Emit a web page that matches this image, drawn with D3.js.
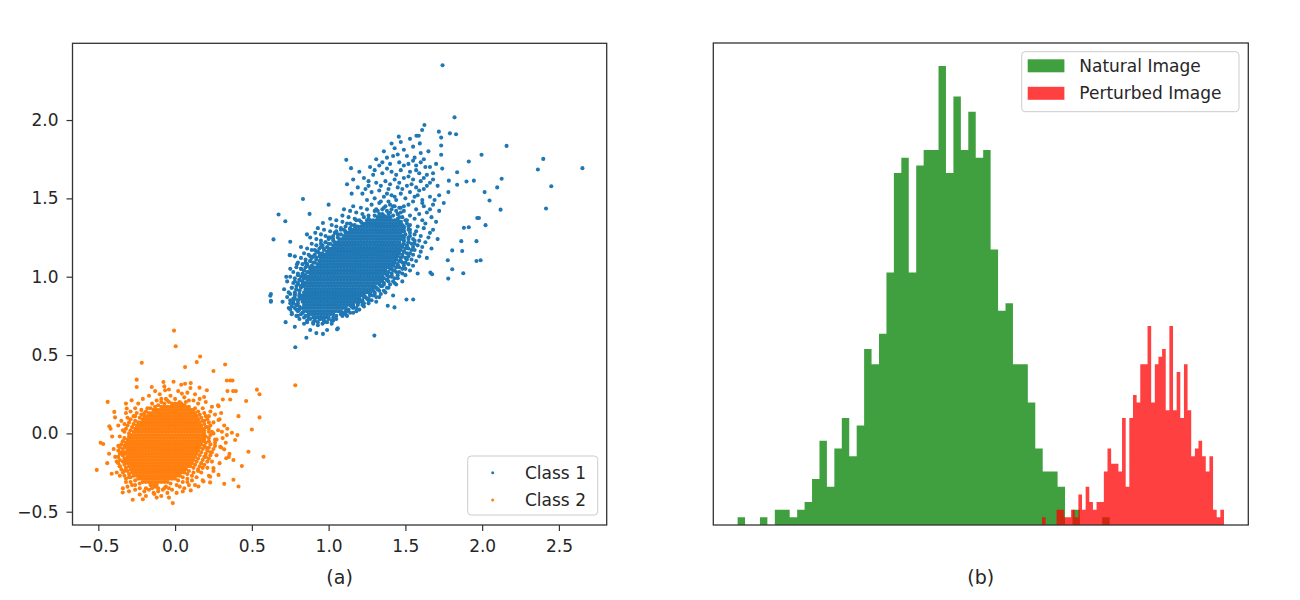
<!DOCTYPE html>
<html><head><meta charset="utf-8">
<script src="https://cdn.jsdelivr.net/npm/d3@7"></script>
<style>body{margin:0;background:#fff}svg{display:block}</style>
</head><body><svg id="c" width="1300" height="600"></svg>
<script>
// ---------------- DATA ----------------
// Panel (a): dense cores as rows [y, [x...]]; rings, halo and outliers as [x, y]
const class1CoreRows = [
[.74,[.90,.92,.94,.96,.98]],
[.76,[.87,.89,.91,.93,.95,.97,.99,1.01,1.03]],
[.78,[.84,.86,.88,.90,.92,.94,.96,.98,1,1.02,1.04,1.06,1.08]],
[.80,[.83,.85,.87,.89,.91,.93,.95,.97,.99,1.01,1.03,1.05,1.07,1.09,1.11]],
[.82,[.84,.86,.88,.90,.92,.94,.96,.98,1,1.02,1.04,1.06,1.08,1.1,1.12,1.14,1.16]],
[.84,[.83,.85,.87,.89,.91,.93,.95,.97,.99,1.01,1.03,1.05,1.07,1.09,1.11,1.13,1.15,1.17,1.19]],
[.86,[.82,.84,.86,.88,.9,.92,.94,.96,.98,1,1.02,1.04,1.06,1.08,1.1,1.12,1.14,1.16,1.18,1.2]],
[.88,[.83,.85,.87,.89,.91,.93,.95,.97,.99,1.01,1.03,1.05,1.07,1.09,1.11,1.13,1.15,1.17,1.19,1.21,1.23]],
[.90,[.84,.86,.88,.9,.92,.94,.96,.98,1,1.02,1.04,1.06,1.08,1.1,1.12,1.14,1.16,1.18,1.2,1.22,1.24,1.26]],
[.92,[.85,.87,.89,.91,.93,.95,.97,.99,1.01,1.03,1.05,1.07,1.09,1.11,1.13,1.15,1.17,1.19,1.21,1.23,1.25,1.27]],
[.94,[.84,.86,.88,.9,.92,.94,.96,.98,1,1.02,1.04,1.06,1.08,1.1,1.12,1.14,1.16,1.18,1.2,1.22,1.24,1.26,1.28,1.3]],
[.96,[.85,.87,.89,.91,.93,.95,.97,.99,1.01,1.03,1.05,1.07,1.09,1.11,1.13,1.15,1.17,1.19,1.21,1.23,1.25,1.27,1.29,1.31]],
[.98,[.86,.88,.9,.92,.94,.96,.98,1,1.02,1.04,1.06,1.08,1.1,1.12,1.14,1.16,1.18,1.2,1.22,1.24,1.26,1.28,1.3,1.32,1.34]],
[1.00,[.87,.89,.91,.93,.95,.97,.99,1.01,1.03,1.05,1.07,1.09,1.11,1.13,1.15,1.17,1.19,1.21,1.23,1.25,1.27,1.29,1.31,1.33,1.35]],
[1.02,[.88,.9,.92,.94,.96,.98,1,1.02,1.04,1.06,1.08,1.1,1.12,1.14,1.16,1.18,1.2,1.22,1.24,1.26,1.28,1.3,1.32,1.34,1.36]],
[1.04,[.89,.91,.93,.95,.97,.99,1.01,1.03,1.05,1.07,1.09,1.11,1.13,1.15,1.17,1.19,1.21,1.23,1.25,1.27,1.29,1.31,1.33,1.35,1.37]],
[1.06,[.9,.92,.94,.96,.98,1,1.02,1.04,1.06,1.08,1.1,1.12,1.14,1.16,1.18,1.2,1.22,1.24,1.26,1.28,1.3,1.32,1.34,1.36,1.38,1.4]],
[1.08,[.93,.95,.97,.99,1.01,1.03,1.05,1.07,1.09,1.11,1.13,1.15,1.17,1.19,1.21,1.23,1.25,1.27,1.29,1.31,1.33,1.35,1.37,1.39,1.41]],
[1.10,[.94,.96,.98,1,1.02,1.04,1.06,1.08,1.1,1.12,1.14,1.16,1.18,1.2,1.22,1.24,1.26,1.28,1.3,1.32,1.34,1.36,1.38,1.4,1.42]],
[1.12,[.95,.97,.99,1.01,1.03,1.05,1.07,1.09,1.11,1.13,1.15,1.17,1.19,1.21,1.23,1.25,1.27,1.29,1.31,1.33,1.35,1.37,1.39,1.41,1.43]],
[1.14,[.96,.98,1,1.02,1.04,1.06,1.08,1.1,1.12,1.14,1.16,1.18,1.2,1.22,1.24,1.26,1.28,1.3,1.32,1.34,1.36,1.38,1.4,1.42,1.44]],
[1.16,[.99,1.01,1.03,1.05,1.07,1.09,1.11,1.13,1.15,1.17,1.19,1.21,1.23,1.25,1.27,1.29,1.31,1.33,1.35,1.37,1.39,1.41,1.43,1.45]],
[1.18,[1,1.02,1.04,1.06,1.08,1.1,1.12,1.14,1.16,1.18,1.2,1.22,1.24,1.26,1.28,1.3,1.32,1.34,1.36,1.38,1.4,1.42,1.44,1.46]],
[1.20,[1.03,1.05,1.07,1.09,1.11,1.13,1.15,1.17,1.19,1.21,1.23,1.25,1.27,1.29,1.31,1.33,1.35,1.37,1.39,1.41,1.43,1.45,1.47]],
[1.22,[1.04,1.06,1.08,1.1,1.12,1.14,1.16,1.18,1.2,1.22,1.24,1.26,1.28,1.3,1.32,1.34,1.36,1.38,1.4,1.42,1.44,1.46]],
[1.24,[1.07,1.09,1.11,1.13,1.15,1.17,1.19,1.21,1.23,1.25,1.27,1.29,1.31,1.33,1.35,1.37,1.39,1.41,1.43,1.45,1.47]],
[1.26,[1.1,1.12,1.14,1.16,1.18,1.2,1.22,1.24,1.26,1.28,1.3,1.32,1.34,1.36,1.38,1.4,1.42,1.44,1.46,1.48]],
[1.28,[1.11,1.13,1.15,1.17,1.19,1.21,1.23,1.25,1.27,1.29,1.31,1.33,1.35,1.37,1.39,1.41,1.43,1.45,1.47]],
[1.30,[1.14,1.16,1.18,1.2,1.22,1.24,1.26,1.28,1.3,1.32,1.34,1.36,1.38,1.4,1.42,1.44,1.46,1.48]],
[1.32,[1.17,1.19,1.21,1.23,1.25,1.27,1.29,1.31,1.33,1.35,1.37,1.39,1.41,1.43,1.45,1.47]],
[1.34,[1.22,1.24,1.26,1.28,1.3,1.32,1.34,1.36,1.38,1.4,1.42,1.44,1.46]],
[1.36,[1.25,1.27,1.29,1.31,1.33,1.35,1.37,1.39,1.41,1.43,1.45]],
[1.38,[1.32,1.34,1.36,1.38,1.4]]
];
const class1Ring = [
[.85,.75],[.82,.76],[.79,.75],[1.05,.75],[1.08,.76],[1.12,.75],
[.83,.77],[.80,.78],[.76,.77],[1.09,.77],[1.12,.78],[1.16,.77],
[.81,.79],[.78,.80],[.75,.79],[1.13,.79],[1.16,.80],[1.20,.79],
[.81,.81],[.79,.82],[.76,.81],[1.16,.81],[1.19,.82],[1.23,.81],
[.80,.83],[.77,.84],[1.19,.83],[1.22,.84],[1.26,.83],
[.80,.85],[.78,.86],[.75,.85],[1.22,.85],[1.25,.86],[1.28,.85],
[.81,.87],[.78,.88],[1.24,.87],[1.27,.88],[1.31,.87],
[.81,.89],[.78,.90],[.75,.89],[1.27,.89],[1.30,.90],[1.34,.89],
[.81,.91],[.79,.92],[1.29,.91],[1.32,.92],[1.36,.91],
[.82,.93],[.79,.94],[.76,.93],[1.31,.93],[1.34,.94],[1.38,.93],
[.83,.95],[.80,.96],[1.33,.95],[1.36,.96],[1.40,.95],
[.83,.97],[.81,.98],[.78,.97],[1.35,.97],[1.38,.98],[1.42,.97],
[.84,.99],[.82,1.00],[1.36,.99],[1.39,1.00],[1.43,.99],
[.85,1.01],[.83,1.02],[.80,1.01],[1.38,1.01],[1.41,1.02],[1.45,1.01],
[.87,1.03],[.84,1.04],[1.39,1.03],[1.42,1.04],[1.46,1.03],
[.88,1.05],[.85,1.06],[.82,1.05],[1.41,1.05],[1.44,1.06],[1.48,1.05],
[.89,1.07],[.86,1.08],[1.42,1.07],[1.45,1.08],[1.49,1.07],
[.91,1.09],[.88,1.10],[.85,1.09],[1.43,1.09],[1.46,1.10],[1.50,1.09],
[.92,1.11],[.89,1.12],[1.44,1.11],[1.47,1.12],[1.51,1.11],
[.94,1.13],[.91,1.14],[.88,1.13],[1.45,1.13],[1.48,1.14],[1.52,1.13],
[.96,1.15],[.93,1.16],[1.46,1.15],[1.49,1.16],[1.53,1.15],
[.97,1.17],[.94,1.18],[.91,1.17],[1.47,1.17],[1.50,1.18],[1.54,1.17],
[.99,1.19],[.96,1.20],[1.48,1.19],[1.51,1.20],[1.55,1.19],
[1.01,1.21],[.98,1.22],[.95,1.21],[1.49,1.21],[1.52,1.22],[1.56,1.21],
[1.03,1.23],[1.00,1.24],[1.49,1.23],[1.52,1.24],[1.56,1.23],
[1.06,1.25],[1.03,1.26],[1.00,1.25],[1.49,1.25],[1.53,1.26],
[1.08,1.27],[1.05,1.28],[1.50,1.27],[1.53,1.28],
[1.11,1.29],[1.08,1.30],[1.05,1.29],[1.49,1.29],[1.52,1.30],
[1.14,1.31],[1.11,1.32],[1.49,1.31],[1.52,1.32],
[1.17,1.33],[1.14,1.34],[1.48,1.33],[1.51,1.34],
[1.21,1.35],[1.18,1.36],[1.47,1.35],[1.50,1.36],
[1.26,1.37],[1.23,1.38],[1.45,1.37],[1.48,1.38],
[1.30,1.39],[1.33,1.40],[1.36,1.39],[1.39,1.40],[1.42,1.39],[1.45,1.40],[1.32,1.42],[1.35,1.43],[1.38,1.42],[1.41,1.43],[1.44,1.42],[1.47,1.41],[1.37,1.45],[1.40,1.46],[1.43,1.45],[1.46,1.44],[1.49,1.45],
[.88,.73],[.91,.72],[.94,.73],[.97,.72],[1.00,.73],[.86,.71],[.90,.70],[.93,.71],[.96,.70],[.99,.71],[1.02,.72],[.84,.74],[1.03,.74],
[1.34,1.48],[1.38,1.53],[1.43,1.51],[1.48,1.56],[1.54,1.59],[1.59,1.55],[1.46,1.60],[1.40,1.59],[1.34,1.58],[1.52,1.64],[1.57,1.68],[1.62,1.63],[1.44,1.65],[1.38,1.69],[1.49,1.71],[1.55,1.74],[1.60,1.73],[1.66,1.70],[1.42,1.77],[1.35,1.73],[1.30,1.68],[1.26,1.61],[1.24,1.56],[1.64,1.58],[1.68,1.62],[1.71,1.58],[1.56,1.51],[1.61,1.47],[1.66,1.43],[1.69,1.49]
];
const class1Halo = [
[.72,.71],[.78,.68],[.84,.70],[.88,.66],[.93,.69],[.97,.71],[1.02,.70],[1.06,.67],[.81,.73],[.86,.72],[.90,.71],[.95,.73],[1.00,.74],[1.05,.73],[1.09,.75],[.76,.76],[.80,.75],[.83,.77],[1.08,.77],[1.12,.79],[.74,.80],[.79,.79],[.92,.64],[.99,.66],[.70,.84],[.77,.83],[1.15,.81],[1.11,.76],[.87,.74],[1.03,.72],
[.79,.82],[.75,.83],[.80,.85],[.77,.86],[.73,.87],[.81,.88],[.78,.89],[.74,.90],[.81,.91],[.79,.92],[.76,.93],[.71,.92],[.82,.94],[.80,.95],[.77,.96],[.73,.97],[.83,.97],[.81,.98],[.78,.99],[.75,1.00],[.85,1.00],[.83,1.01],[.80,1.02],[.77,1.03],[.86,1.03],[.84,1.04],[.82,1.05],[.79,1.06],[.75,1.05],[.88,1.06],[.86,1.07],[.83,1.08],[.80,1.09],[.90,1.09],[.88,1.10],[.85,1.11],[.82,1.12],[.78,1.13],[.92,1.12],[.90,1.13],[.87,1.14],[.84,1.15],[.94,1.15],[.92,1.16],[.89,1.17],[.86,1.18],[.82,1.19],[.97,1.18],[.95,1.19],[.92,1.20],[.89,1.21],[1.00,1.21],[.98,1.22],[.95,1.23],[.92,1.24],[.88,1.25],[1.03,1.24],[1.01,1.25],[.98,1.26],[.95,1.27],[1.06,1.27],[1.04,1.28],[1.01,1.29],[.97,1.30],[.93,1.31],[1.10,1.30],[1.08,1.31],[1.05,1.32],[1.02,1.33],[1.15,1.33],[1.12,1.34],[1.09,1.35],[1.05,1.36],[1.01,1.37],[1.20,1.36],[1.17,1.37],[1.13,1.38],[1.09,1.39],[1.26,1.39],[1.22,1.40],[1.18,1.41],[1.14,1.42],[1.10,1.43],[1.30,1.42],[1.25,1.43],[1.21,1.44],[1.16,1.45],
[1.35,1.40],[1.40,1.41],[1.45,1.40],[1.49,1.42],[1.31,1.43],[1.36,1.44],[1.42,1.45],[1.47,1.44],[1.52,1.46],[1.28,1.46],[1.33,1.47],[1.39,1.48],[1.44,1.49],[1.50,1.50],[1.55,1.48],[1.25,1.49],[1.30,1.50],[1.36,1.51],[1.41,1.52],[1.47,1.53],[1.53,1.54],[1.58,1.52],[1.22,1.53],[1.28,1.54],[1.33,1.55],[1.39,1.56],[1.45,1.57],[1.51,1.58],[1.57,1.57],[1.62,1.56],[1.19,1.57],[1.26,1.58],[1.31,1.60],[1.37,1.61],[1.43,1.62],[1.49,1.63],[1.55,1.62],[1.60,1.61],[1.66,1.60],[1.23,1.63],[1.29,1.65],[1.35,1.66],[1.41,1.67],[1.47,1.68],[1.53,1.67],[1.59,1.66],[1.64,1.65],[1.20,1.67],[1.27,1.70],[1.33,1.71],[1.40,1.72],[1.46,1.73],[1.52,1.72],[1.57,1.71],[1.63,1.70],[1.31,1.75],[1.38,1.76],[1.45,1.78],[1.51,1.77],[1.56,1.76],[1.62,1.75],[1.36,1.80],[1.43,1.82],[1.49,1.81],[1.55,1.83],[1.47,1.86],[1.53,1.88],[1.41,1.85],[1.68,1.66],[1.70,1.72],[1.60,1.79],[1.65,1.80],[1.74,1.69],[1.16,1.62],[1.12,1.59],[1.15,1.53],
[1.11,.78],[1.14,.77],[1.18,.78],[1.15,.81],[1.18,.80],[1.22,.82],[1.20,.84],[1.23,.83],[1.26,.85],[1.31,.84],[1.23,.87],[1.26,.86],[1.29,.88],[1.33,.87],[1.27,.90],[1.30,.89],[1.33,.91],[1.37,.90],[1.42,.88],[1.29,.93],[1.32,.92],[1.35,.94],[1.39,.93],[1.44,.95],[1.33,.96],[1.36,.95],[1.39,.97],[1.43,.96],[1.48,.97],[1.35,.99],[1.38,.98],[1.41,1.00],[1.45,.99],[1.50,1.01],[1.38,1.02],[1.41,1.01],[1.44,1.03],[1.48,1.02],[1.53,1.04],[1.58,1.02],[1.40,1.05],[1.43,1.04],[1.46,1.06],[1.50,1.05],[1.55,1.07],[1.42,1.08],[1.45,1.07],[1.48,1.09],[1.52,1.08],[1.57,1.10],[1.44,1.11],[1.47,1.10],[1.50,1.12],[1.54,1.11],[1.59,1.13],[1.64,1.12],[1.45,1.14],[1.48,1.13],[1.51,1.15],[1.55,1.14],[1.60,1.16],[1.46,1.17],[1.49,1.16],[1.52,1.18],[1.56,1.17],[1.61,1.19],[1.67,1.18],[1.48,1.20],[1.51,1.19],[1.54,1.21],[1.58,1.20],[1.63,1.22],[1.49,1.23],[1.52,1.22],[1.55,1.24],[1.59,1.23],[1.65,1.25],[1.71,1.24],[1.49,1.26],[1.52,1.25],[1.56,1.27],[1.60,1.26],[1.66,1.28],[1.49,1.29],[1.53,1.30],[1.57,1.29],[1.62,1.31],[1.68,1.30],[1.49,1.32],[1.53,1.33],[1.58,1.32],[1.63,1.34],[1.70,1.35],[1.47,1.35],[1.51,1.36],[1.56,1.37],[1.61,1.36],[1.67,1.38],[1.46,1.38],[1.53,1.39],[1.59,1.40],[1.64,1.41],[1.72,1.42],[1.57,1.43],[1.62,1.45],[1.68,1.46],[1.75,1.47],[1.61,1.49],[1.66,1.51],[1.72,1.52],[1.78,1.54]
];
const class1Outliers = [
[1.742,2.35],[1.82,2.017],[1.624,1.968],[1.572,1.90],[1.587,1.90],[1.457,1.894],[1.718,1.926],[1.79,1.915],[1.83,1.909],[1.609,1.936],[1.594,1.851],[1.733,1.888],[2.159,1.835],[1.996,1.778],[2.398,1.752],[2.653,1.693],[2.363,1.684],[2.45,1.577],[2.416,1.435],[2.127,1.625],[2.098,1.57],[2.048,1.486],[2.016,1.54],[2.12,1.428],[1.913,1.735],[1.837,1.667],[1.733,1.778],[1.733,1.837],[1.115,1.746],[1.146,1.693],[.833,1.496],[.674,1.397],[.718,1.354],[.641,1.238],[.876,1.401],[.75,1.223],[.75,1.138],[.624,.889],[.624,.84],[.783,.55],[1.298,.624],[.855,.61],[.963,.635],[1.055,.664],[1.429,.804],[1.385,.815],[1.507,.855],[1.551,.855],[1.663,1.026],[1.674,1.016],[1.779,.988],[1.805,1.048],[1.877,1.022],[1.963,1.1],[1.99,1.105],[1.963,1.227],[2.022,1.329],[1.968,1.375],[1.979,1.375],[1.864,1.227],[1.805,1.168],[1.881,1.312],[1.913,1.316],[1.837,1.587],[1.898,1.608],[1.783,1.613],[1.946,1.613],[1.776,1.105],[1.87,1.164],[1.0,1.46],[.963,1.343],[.913,1.28],[.859,1.27],[.746,1.138],[.794,1.079],[.724,.999],[.62,.878],[.624,.846]
];
const class2CoreRows = [
[-.33,[-.14,-.12]],
[-.31,[-.21,-.19,-.17,-.15,-.13,-.11,-.09,-.07,-.05]],
[-.29,[-.24,-.22,-.2,-.18,-.16,-.14,-.12,-.1,-.08,-.06,-.04,-.02,0]],
[-.27,[-.27,-.25,-.23,-.21,-.19,-.17,-.15,-.13,-.11,-.09,-.07,-.05,-.03,-.01,.01,.03]],
[-.25,[-.28,-.26,-.24,-.22,-.2,-.18,-.16,-.14,-.12,-.1,-.08,-.06,-.04,-.02,0,.02,.04,.06]],
[-.23,[-.29,-.27,-.25,-.23,-.21,-.19,-.17,-.15,-.13,-.11,-.09,-.07,-.05,-.03,-.01,.01,.03,.05,.07]],
[-.21,[-.3,-.28,-.26,-.24,-.22,-.2,-.18,-.16,-.14,-.12,-.1,-.08,-.06,-.04,-.02,0,.02,.04,.06,.08,.1]],
[-.19,[-.31,-.29,-.27,-.25,-.23,-.21,-.19,-.17,-.15,-.13,-.11,-.09,-.07,-.05,-.03,-.01,.01,.03,.05,.07,.09,.11]],
[-.17,[-.32,-.3,-.28,-.26,-.24,-.22,-.2,-.18,-.16,-.14,-.12,-.1,-.08,-.06,-.04,-.02,0,.02,.04,.06,.08,.1,.12]],
[-.15,[-.31,-.29,-.27,-.25,-.23,-.21,-.19,-.17,-.15,-.13,-.11,-.09,-.07,-.05,-.03,-.01,.01,.03,.05,.07,.09,.11,.13]],
[-.13,[-.32,-.3,-.28,-.26,-.24,-.22,-.2,-.18,-.16,-.14,-.12,-.1,-.08,-.06,-.04,-.02,0,.02,.04,.06,.08,.1,.12,.14]],
[-.11,[-.31,-.29,-.27,-.25,-.23,-.21,-.19,-.17,-.15,-.13,-.11,-.09,-.07,-.05,-.03,-.01,.01,.03,.05,.07,.09,.11,.13,.15]],
[-.09,[-.32,-.3,-.28,-.26,-.24,-.22,-.2,-.18,-.16,-.14,-.12,-.1,-.08,-.06,-.04,-.02,0,.02,.04,.06,.08,.1,.12,.14,.16]],
[-.07,[-.31,-.29,-.27,-.25,-.23,-.21,-.19,-.17,-.15,-.13,-.11,-.09,-.07,-.05,-.03,-.01,.01,.03,.05,.07,.09,.11,.13,.15,.17]],
[-.05,[-.3,-.28,-.26,-.24,-.22,-.2,-.18,-.16,-.14,-.12,-.1,-.08,-.06,-.04,-.02,0,.02,.04,.06,.08,.1,.12,.14,.16,.18]],
[-.03,[-.29,-.27,-.25,-.23,-.21,-.19,-.17,-.15,-.13,-.11,-.09,-.07,-.05,-.03,-.01,.01,.03,.05,.07,.09,.11,.13,.15,.17]],
[-.01,[-.28,-.26,-.24,-.22,-.2,-.18,-.16,-.14,-.12,-.1,-.08,-.06,-.04,-.02,0,.02,.04,.06,.08,.1,.12,.14,.16,.18]],
[.01,[-.27,-.25,-.23,-.21,-.19,-.17,-.15,-.13,-.11,-.09,-.07,-.05,-.03,-.01,.01,.03,.05,.07,.09,.11,.13,.15,.17]],
[.03,[-.26,-.24,-.22,-.2,-.18,-.16,-.14,-.12,-.1,-.08,-.06,-.04,-.02,0,.02,.04,.06,.08,.1,.12,.14,.16,.18]],
[.05,[-.25,-.23,-.21,-.19,-.17,-.15,-.13,-.11,-.09,-.07,-.05,-.03,-.01,.01,.03,.05,.07,.09,.11,.13,.15,.17]],
[.07,[-.24,-.22,-.2,-.18,-.16,-.14,-.12,-.1,-.08,-.06,-.04,-.02,0,.02,.04,.06,.08,.1,.12,.14,.16]],
[.09,[-.21,-.19,-.17,-.15,-.13,-.11,-.09,-.07,-.05,-.03,-.01,.01,.03,.05,.07,.09,.11,.13,.15]],
[.11,[-.2,-.18,-.16,-.14,-.12,-.1,-.08,-.06,-.04,-.02,0,.02,.04,.06,.08,.1,.12,.14]],
[.13,[-.17,-.15,-.13,-.11,-.09,-.07,-.05,-.03,-.01,.01,.03,.05,.07,.09,.11,.13]],
[.15,[-.14,-.12,-.1,-.08,-.06,-.04,-.02,0,.02,.04,.06,.08,.1]],
[.17,[-.09,-.07,-.05,-.03,-.01,.01,.03,.05,.07]],
[.19,[-.02,0,.02]]
];
const class2Ring = [
[-.15,-.35],[-.11,-.35],[-.07,-.35],[-.13,-.34],[-.04,-.35],[-.19,-.35],
[-.23,-.32],[-.26,-.33],[-.03,-.32],[.01,-.33],
[-.26,-.30],[-.29,-.31],[.02,-.30],[.05,-.31],
[-.29,-.28],[-.32,-.29],[.05,-.28],[.08,-.29],
[-.30,-.26],[-.33,-.27],[.08,-.26],[.11,-.27],
[-.31,-.24],[-.34,-.25],[.09,-.24],[.12,-.25],[.15,-.24],
[-.32,-.22],[-.35,-.23],[.12,-.22],[.15,-.23],[.18,-.22],
[-.33,-.20],[-.36,-.21],[.13,-.20],[.16,-.21],[.19,-.20],
[-.34,-.18],[-.37,-.19],[.14,-.18],[.17,-.19],[.21,-.18],
[-.33,-.16],[-.36,-.17],[.15,-.16],[.18,-.17],[.22,-.16],
[-.34,-.14],[-.37,-.15],[.16,-.14],[.19,-.15],[.23,-.14],
[-.33,-.12],[-.36,-.13],[.17,-.12],[.20,-.13],[.24,-.12],
[-.34,-.10],[-.37,-.11],[.18,-.10],[.21,-.11],[.25,-.10],
[-.33,-.08],[-.36,-.09],[.19,-.08],[.22,-.09],[.26,-.08],
[-.32,-.06],[-.35,-.07],[.20,-.06],[.23,-.07],
[-.31,-.04],[-.34,-.05],[.19,-.04],[.22,-.03],[.26,-.04],
[-.30,-.02],[-.33,-.03],[.20,-.02],[.23,-.01],
[-.30,0],[-.33,.01],[.19,0],[.22,.01],[.25,0],
[-.29,.02],[-.32,.03],[.19,.02],[.22,.03],
[-.28,.04],[-.31,.05],[.20,.04],[.23,.05],
[-.27,.06],[-.30,.07],[.19,.06],[.22,.07],
[-.26,.08],[-.29,.09],[.18,.08],[.21,.09],
[-.23,.10],[-.26,.11],[.17,.10],[.20,.11],
[-.22,.12],[-.25,.13],[.16,.12],[.19,.13],
[-.19,.14],[-.22,.15],[.15,.14],[.12,.15],
[-.16,.16],[-.13,.17],[.13,.16],[.09,.17],
[-.11,.18],[-.07,.19],[.06,.18],[.04,.19],[-.04,.20],
[-.05,.21],[.07,.20],[-.09,.22]
];
const class2Halo = [
[-.34,-.05],[-.37,-.08],[-.35,-.12],[-.39,-.15],[-.33,-.18],[-.36,-.21],[-.40,-.10],[-.34,.02],[-.37,.05],[-.41,-.02],[-.33,-.24],[-.36,-.27],[-.30,-.28],[-.32,-.31],[-.35,.08],[-.31,.10],[-.38,-.25],[-.43,-.13],[-.42,.03],[-.34,-.14],[-.36,-.02],[-.33,.06],[-.38,-.18],[-.31,-.34],[-.28,-.33],[-.26,-.36],[-.23,-.35],[-.30,-.37],[-.34,-.35],[-.29,.14],[-.26,.16],[-.27,.11],[-.32,.13],[-.24,.19],
[-.20,-.37],[-.17,-.36],[-.14,-.38],[-.11,-.37],[-.08,-.36],[-.05,-.38],[-.19,-.40],[-.12,-.41],[-.02,-.36],[.01,-.38],[-.09,-.40],[-.16,-.33],[-.06,-.34],[.03,-.34],[.06,-.35],[-.23,-.39],[-.04,-.41],[.09,-.33],[-.21,-.42],
[.19,-.02],[.22,-.05],[.21,.04],[.24,.01],[.20,-.09],[.23,-.12],[.26,-.06],[.19,.08],[.22,.11],[.25,.07],[.28,.02],[.20,-.15],[.24,-.18],[.27,-.14],[.30,-.09],[.21,-.22],[.17,-.25],[.14,-.28],[.18,-.30],[.11,-.30],[.25,-.24],[.29,-.19],[.27,-.04],[.31,-.03],[.23,.14],[.26,.12],[.29,.09],[.32,.05],[.18,.16],[.15,.19],[.12,.21],[.16,.22],[.20,.20],[.24,.17],[.08,-.31],[.13,-.33],[.22,-.27],[.33,-.06],[.34,.03],[.30,.13],[.28,.18],[.35,-.15],
[-.18,.16],[-.15,.19],[-.12,.21],[-.09,.20],[-.06,.22],[-.03,.24],[.00,.22],[.03,.20],[.06,.23],[.09,.21],[.05,.18],[-.20,.13],[-.10,.25],[-.04,.28],[.02,.27],[.08,.26],[-.13,.27],[-.07,.30],[.04,.31],[.10,.29],[-.21,.22],[-.17,.24],[.13,.25],[-.01,.33]
];
const class2Outliers = [
[-.007,.656],[.004,.556],[-.217,.451],[.163,.491],[.141,.455],[.065,.423],[.25,.398],[.326,.44],[-.25,.343],[-.439,.201],[-.396,.137],[-.391,.102],[-.428,.046],[-.485,-.06],[-.468,-.068],[-.51,-.233],[-.442,-.19],[-.413,-.258],[-.341,-.377],[-.276,-.424],[-.015,-.445],[-.135,-.387],[.05,-.371],[.102,-.364],[.228,-.313],[.32,-.322],[.413,-.339],[.38,-.296],[.435,-.208],[.478,-.117],[.576,-.149],[.5,.025],[.55,.102],[.533,.279],[.55,.25],[.463,.207],[.413,.11],[.406,-.011],[.391,-.042],[.359,.338],[.374,.338],[.337,.338],[.341,.27],[.378,.27],[.396,.27],[.311,.216],[.359,.216],[.283,.173],[.283,.085],[.305,.01],[.337,-.011],[.37,.004],[.294,-.085],[.32,-.102],[.354,-.131],[.38,-.17],[.333,-.159],[.25,-.222],[.283,-.265],[.228,-.276],[.185,-.307],[.152,-.339],[-.25,.296],[-.152,.296],[-.076,.328],[-.065,.275],[-.32,.19],[-.283,.211],[-.315,.159],[.065,.317],[.102,.321],[.044,.254],[.159,.292],[.207,.275],[.189,.232],[.783,.307]
];
const xTicksA = [-0.5, 0, 0.5, 1.0, 1.5, 2.0, 2.5];
const yTicksA = [-0.5, 0, 0.5, 1.0, 1.5, 2.0];
const seriesA = ["Class 1", "Class 2"];

// Panel (b): histograms, 50 bins each over the given ranges (arbitrary score units)
const naturalRange = [0, 50];
const naturalCounts = [1,0,0,1,0,2,2,1,2,3,6,11,5,10,14,9,13,23,21,25,33,46,48,33,47,49,49,60,46,56,49,54,48,49,36,28,29,21,21,16,10,7,7,5,0,2,0,0,0,1];
const perturbedRange = [40.9, 65.36];
const perturbedCounts = [1,0,0,0,2,2,1,1,2,1,4,2,5,3,2,3,3,7,10,8,8,7,14,5,14,17,16,21,21,26,16,21,22,23,15,26,15,20,14,21,15,9,10,11,9,7,9,2,1,2];
const seriesB = ["Natural Image", "Perturbed Image"];
const captions = ["(a)", "(b)"];

// ---------------- DRAW ----------------
const FONT = '"DejaVu Sans", Verdana, sans-serif';
const svg = d3.select("#c");
const pad5 = e => { const m = (e[1] - e[0]) * 0.05; return [e[0] - m, e[1] + m]; };
const expand = rows => rows.flatMap(([y, xs]) => xs.map(x => [x, y]));
const class1 = expand(class1CoreRows).concat(class1Ring, class1Halo, class1Outliers);
const class2 = expand(class2CoreRows).concat(class2Ring, class2Halo, class2Outliers);

function styleAxis(g) {
  g.select(".domain").remove();
  g.selectAll(".tick line").attr("stroke", "#333").attr("stroke-width", 1.2);
  g.selectAll(".tick text").attr("fill", "#262626").style("font-family", FONT).style("font-size", "17px");
}

// ---- Panel (a)
const A = { l: 72.5, r: 606.7, t: 43.3, b: 525 };
const allA = class1.concat(class2);
const xA = d3.scaleLinear().domain(pad5(d3.extent(allA, d => d[0]))).range([A.l, A.r]);
const yA = d3.scaleLinear().domain(pad5(d3.extent(allA, d => d[1]))).range([A.b, A.t]);
const colorsA = ["#1f77b4", "#ff7f0e"];
const R = 2.05;

const gA = svg.append("g");
[class1, class2].forEach((pts, i) => {
  gA.append("g").selectAll("circle").data(pts).join("circle")
    .attr("cx", d => xA(d[0])).attr("cy", d => yA(d[1])).attr("r", R).attr("fill", colorsA[i]);
});
gA.append("g").attr("transform", `translate(0,${A.b})`)
  .call(d3.axisBottom(xA).tickValues(xTicksA).tickFormat(d3.format(".1f")).tickSize(6).tickPadding(8.5)).call(styleAxis);
gA.append("g").attr("transform", `translate(${A.l},0)`)
  .call(d3.axisLeft(yA).tickValues(yTicksA).tickFormat(d3.format(".1f")).tickSize(6).tickPadding(8)).call(styleAxis);
gA.append("rect").attr("x", A.l).attr("y", A.t).attr("width", A.r - A.l).attr("height", A.b - A.t)
  .attr("fill", "none").attr("stroke", "#333").attr("stroke-width", 1.3);

// legend (a)
const LA = gA.append("g");
LA.append("rect").attr("x", 467.7).attr("y", 456).attr("width", 130).attr("height", 59).attr("rx", 3.5)
  .attr("fill", "#fff").attr("fill-opacity", 0.8).attr("stroke", "#ccc");
seriesA.forEach((s, i) => {
  const cy = 472.7 + i * 27.3;
  LA.append("circle").attr("cx", 492.7).attr("cy", cy).attr("r", 1.5).attr("fill", colorsA[i]);
  LA.append("text").attr("x", 525).attr("y", cy + 6).text(s)
    .attr("fill", "#262626").style("font-family", FONT).style("font-size", "17px");
});
gA.append("text").attr("x", (A.l + A.r) / 2).attr("y", 584).attr("text-anchor", "middle").text(captions[0])
  .attr("fill", "#262626").style("font-family", FONT).style("font-size", "19px");

// ---- Panel (b)
const B = { l: 713.3, r: 1248.3, t: 43, b: 525 };
const xB = d3.scaleLinear().domain(pad5([Math.min(naturalRange[0], perturbedRange[0]), Math.max(naturalRange[1], perturbedRange[1])])).range([B.l, B.r]);
const yB = d3.scaleLinear().domain([0, d3.max(naturalCounts.concat(perturbedCounts)) * 1.05]).range([B.b, B.t]);
function binsOf(range, counts) {
  const w = (range[1] - range[0]) / counts.length;
  const pts = counts.map((c, i) => ({ x: range[0] + i * w, c }));
  pts.push({ x: range[1], c: counts[counts.length - 1] });
  return pts;
}
const area = d3.area().curve(d3.curveStepAfter).x(d => xB(d.x)).y0(yB(0)).y1(d => yB(d.c));
const gB = svg.append("g");
const colorsB = ["green", "red"];
[[naturalRange, naturalCounts], [perturbedRange, perturbedCounts]].forEach(([rg, cts], i) => {
  gB.append("path").datum(binsOf(rg, cts)).attr("d", area).attr("fill", colorsB[i]).attr("fill-opacity", 0.75);
});
gB.append("rect").attr("x", B.l).attr("y", B.t).attr("width", B.r - B.l).attr("height", B.b - B.t)
  .attr("fill", "none").attr("stroke", "#333").attr("stroke-width", 1.3);
const LB = gB.append("g");
LB.append("rect").attr("x", 1021.7).attr("y", 51.7).attr("width", 217.3).attr("height", 60).attr("rx", 3.5)
  .attr("fill", "#fff").attr("fill-opacity", 0.8).attr("stroke", "#ccc");
seriesB.forEach((s, i) => {
  const cy = 65.8 + i * 27.5;
  LB.append("rect").attr("x", 1027.7).attr("y", cy - 6.5).attr("width", 36.7).attr("height", 13)
    .attr("fill", colorsB[i]).attr("fill-opacity", 0.75);
  LB.append("text").attr("x", 1079.3).attr("y", cy + 6).text(s)
    .attr("fill", "#262626").style("font-family", FONT).style("font-size", "17px");
});
gB.append("text").attr("x", (B.l + B.r) / 2).attr("y", 584).attr("text-anchor", "middle").text(captions[1])
  .attr("fill", "#262626").style("font-family", FONT).style("font-size", "19px");
</script>
</body></html>
